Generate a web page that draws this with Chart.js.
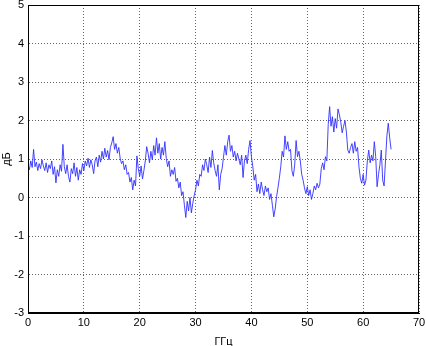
<!DOCTYPE html>
<html>
<head>
<meta charset="utf-8">
<script src="https://cdn.jsdelivr.net/npm/chart.js@4"></script>
<style>
  body { margin: 0; background: #fff; }
</style>
</head>
<body>
<canvas id="mycanvas" width="426" height="346"></canvas>
<script>
var fStart = 0;
var fStep = 0.25;
var levels = [
  0.85, 0.72, 0.95, 0.78,   1.25, 0.80, 0.92, 0.70,   0.88, 0.75, 0.98, 0.82,
  0.70, 0.90, 0.65, 0.85,   0.75, 0.95, 0.60, 0.80,   0.38, 0.72, 0.55, 0.85,
  0.68, 1.38, 0.80, 0.62,   0.85, 0.55, 0.40, 0.75,   0.62, 0.90, 0.55, 0.78,
  0.45, 0.72, 0.60, 0.88,   0.70, 0.95, 0.82, 1.02,   0.78, 0.98, 0.85, 0.62,
  0.95, 1.05, 0.80, 1.10,   0.92, 1.20, 1.00, 1.28,   1.05, 1.22, 0.98, 1.30,
  1.42, 1.58, 1.25, 1.40,   1.15, 1.30, 1.02, 0.88,   0.95, 0.72, 0.85, 0.60,
  0.65, 0.40, 0.52, 0.20,   0.45, 0.30, 1.08, 0.75,   0.55, 0.82, 0.48, 0.70,
  0.95, 1.32, 1.15, 0.90,   1.20, 0.98, 1.35, 1.10,   1.55, 1.15, 1.40, 1.00,
  1.30, 1.10, 1.45, 1.02,   0.80, 0.95, 0.55, 0.72,   0.60, 0.78, 0.42, 0.50,
  0.25, 0.40, 0.05, 0.15,  -0.20, -0.52, -0.10, -0.35,  0.00, -0.40, -0.15, 0.05,
  0.20, 0.45, 0.30, 0.60,   0.55, 0.85, 0.70, 1.00,   0.85, 0.65, 1.05, 0.78,
  1.22, 0.90, 0.70, 0.55,   0.85, 0.20, 0.60, 0.75,   1.05, 1.35, 1.10, 1.45,
  1.62, 1.20, 1.35, 1.05,   1.20, 0.95, 1.15, 1.00,   0.85, 1.10, 0.52, 0.95,
  1.10, 0.88, 1.25, 1.48,   1.05, 0.80, 0.45, 0.60,   0.15, 0.35, 0.10, 0.40,
  0.20, 0.05, 0.30, 0.15,   0.25, -0.05, 0.10, -0.20, -0.50, -0.30, 0.02, 0.25,
  0.50, 0.80, 1.20, 1.05,   1.60, 1.25, 1.45, 1.20,   1.25, 0.70, 0.55, 0.85,
  1.48, 1.06, 1.20, 0.95,   0.60, 0.45, 0.25, 0.10,   0.28, 0.05, 0.20, -0.05,
  0.10, 0.30, 0.20, 0.37,   0.25, 0.35, 0.75, 0.90,   0.72, 1.06, 0.95, 1.90,
  2.36, 1.85, 2.10, 1.70,   2.05, 1.80, 2.30, 2.15,   1.95, 1.68, 1.85, 2.00,
  1.70, 1.23, 1.15, 1.30,   1.40, 1.15, 1.45, 1.20,   1.30, 0.80, 0.50, 0.37,
  0.60, 0.32, 0.45, 0.95,   1.23, 0.90, 1.10, 0.95,   1.45, 1.06, 0.28, 0.60,
  0.85, 1.23, 0.45, 0.30,   0.95, 1.60, 1.93, 1.55,   1.25
];
var xTicks = [0, 10, 20, 30, 40, 50, 60, 70];
var yTicks = [-3, -2, -1, 0, 1, 2, 3, 4, 5];

var points = [];
for (var i in levels) {
  points.push({ x: fStart + i * fStep, y: levels[i] });
}

// black box round the plot area
var frame = {
  id: 'frame',
  afterDraw: function(chart) {
    var a = chart.chartArea, c = chart.ctx;
    c.save();
    c.strokeStyle = '#000';
    c.lineWidth = 1;
    c.strokeRect(Math.round(a.left) + 0.5, Math.round(a.top) + 0.5,
                 Math.round(a.right - a.left) - 1, Math.round(a.bottom - a.top) - 1);
    c.restore();
  }
};

var tickFont = { family: 'Liberation Sans', size: 11 };

var ctx = document.getElementById('mycanvas');
var chart = new Chart(ctx, {
  type: 'line',
  data: {
    datasets: [{
      data: points,
      borderColor: '#3030ff',
      borderWidth: 0.9,
      pointRadius: 0,
      tension: 0
    }]
  },
  options: {
    responsive: false,
    animation: false,
    events: [],
    layout: { padding: 0 },
    plugins: { legend: { display: false }, tooltip: { enabled: false } },
    scales: {
      x: {
        type: 'linear',
        min: 0,
        max: 70,
        afterBuildTicks: function(s) { s.ticks = xTicks.map(function(v) { return { value: v }; }); },
        afterFit: function(s) { s.height = 33; s.paddingLeft = 0; s.paddingRight = 7; },
        grid: { color: 'rgba(0,0,0,0.6)', drawTicks: false },
        border: { color: '#000', width: 1, dash: [1, 2] },
        ticks: { color: '#000', padding: 3, maxRotation: 0, font: tickFont },
        title: { display: true, text: 'ГГц', color: '#000', padding: { top: 0, bottom: -3 }, font: tickFont }
      },
      y: {
        min: -3,
        max: 5,
        afterBuildTicks: function(s) { s.ticks = yTicks.map(function(v) { return { value: v }; }); },
        afterFit: function(s) { s.width = 28; s.paddingTop = 5; s.paddingBottom = 0; },
        grid: { color: 'rgba(0,0,0,0.6)', drawTicks: false },
        border: { color: '#000', width: 1, dash: [1, 2] },
        ticks: { color: '#000', padding: 4, font: tickFont },
        title: { display: true, text: 'дБ', color: '#000', padding: 0, font: tickFont }
      }
    }
  },
  plugins: [frame]
});
</script>
</body>
</html>
